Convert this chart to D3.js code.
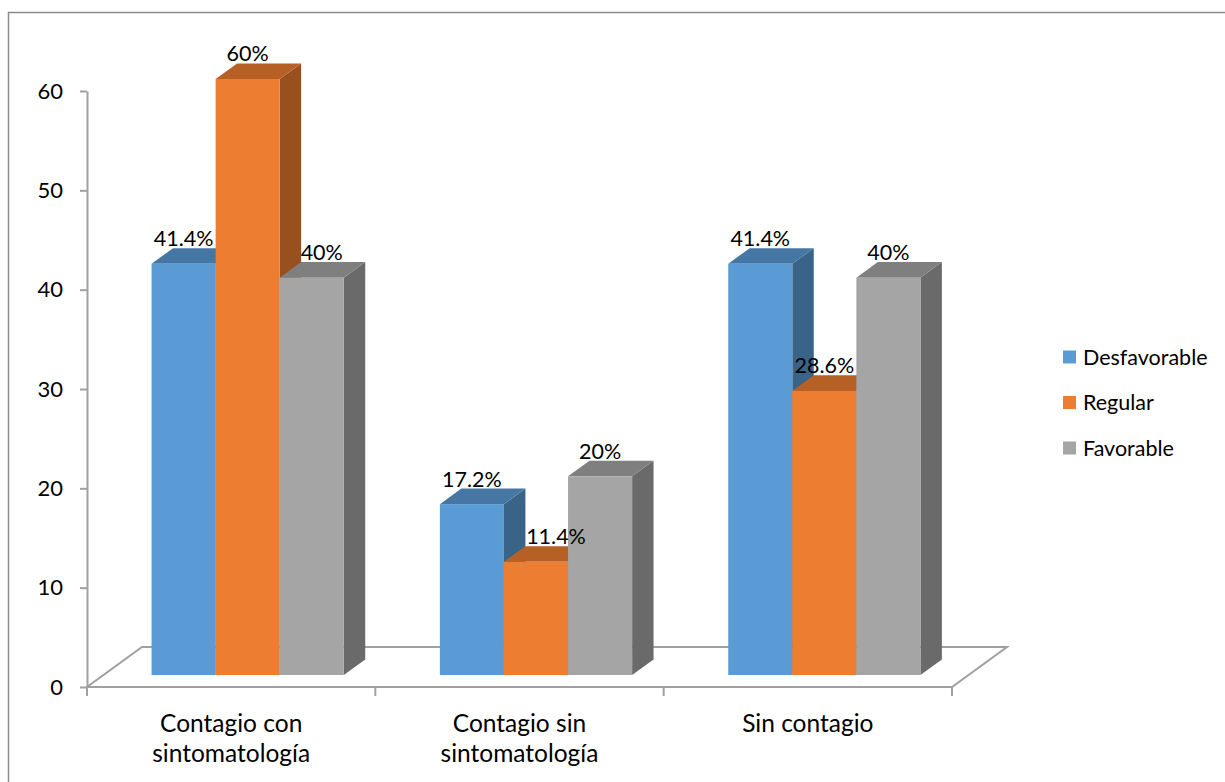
<!DOCTYPE html>
<html>
<head>
<meta charset="utf-8">
<script src="https://cdn.jsdelivr.net/npm/d3@7"></script>
<style>
  html, body { margin: 0; padding: 0; background: #fff; }
  svg { display: block; font-family: Lato, "Liberation Sans", sans-serif; }
</style>
</head>
<body>
<svg id="chart" width="1225" height="782"></svg>
<script>
// Categories (line breaks mark where the axis label wraps)
const categories = ["Contagio con\nsintomatología", "Contagio sin\nsintomatología", "Sin contagio"];
const seriesNames = ["Desfavorable", "Regular", "Favorable"];

// Percent values per category, one array per series
const desfavorable = [41.4, 17.2, 41.4];
const regular      = [60, 11.4, 28.6];
const favorable    = [40, 20, 40];

const yTicks = [0, 10, 20, 30, 40, 50, 60];

const seriesColors = ["#5B9BD5", "#ED7D31", "#A5A5A5"];

// Horizontal nudges for value labels that would otherwise sit on a neighbouring bar
const labelNudge = { "Favorable|0": 10, "Regular|1": 20 };

const seriesValues = [desfavorable, regular, favorable];
const rows = [];
categories.forEach((c, ci) => {
  seriesNames.forEach((s, si) => {
    rows.push({ category: c, ci, series: s, si, value: seriesValues[si][ci] });
  });
});

const svg = d3.select("#chart");

// Outer frame of the chart object
svg.append("rect")
  .attr("x", 8.5).attr("y", 12.5)
  .attr("width", 1240).attr("height", 800)
  .attr("fill", "none").attr("stroke", "#8c8c8c").attr("stroke-width", 1.5);

// Plot geometry: front floor edge and the oblique depth vector
const plot = { left: 87, right: 952, base: 687, top: 91 };
const depth = { dx: 55, dy: -40 };
const barFront = 0.3, barThick = 0.39;

const y = d3.scaleLinear().domain([0, 60]).range([plot.base, plot.top]);
const x = d3.scaleBand().domain(categories).range([plot.left, plot.right]).paddingInner(0).paddingOuter(0);
const xs = d3.scaleBand().domain(seriesNames).range([0, x.bandwidth()]).paddingInner(0).paddingOuter(0.75);
const color = d3.scaleOrdinal().domain(seriesNames).range(seriesColors);

// project a point at (screen x on the front plane, value, depth fraction)
const P = (px, v, d) => [px + depth.dx * d, y(v) + depth.dy * d];
const poly = pts => "M" + pts.map(p => p.join(",")).join("L") + "Z";

const axisGrey = "#a0a0a0";

// Floor
const floor = svg.append("g");
floor.append("path")
  .attr("d", poly([P(plot.left, 0, 0), P(plot.right, 0, 0), P(plot.right, 0, 1), P(plot.left, 0, 1)]))
  .attr("fill", "none").attr("stroke", axisGrey).attr("stroke-width", 2)
  .attr("stroke-linejoin", "miter");

// Value axis
const yAxis = svg.append("g")
  .attr("transform", `translate(${plot.left},0)`)
  .call(d3.axisLeft(y).tickValues(yTicks).tickSize(7).tickSizeOuter(0).tickPadding(17).tickFormat(d3.format("d")));
yAxis.select(".domain").attr("stroke", axisGrey).attr("stroke-width", 2);
yAxis.selectAll(".tick line").attr("stroke", axisGrey).attr("stroke-width", 2);
yAxis.selectAll(".tick text")
  .attr("fill", "#000").style("font-size", "22px").style("font-family", "Lato, sans-serif");

// Category tick marks at band boundaries
const bounds = categories.map(c => x(c)).concat([x(categories[categories.length - 1]) + x.bandwidth()]);
svg.append("g").selectAll("line").data(bounds).join("line")
  .attr("x1", d => d).attr("x2", d => d)
  .attr("y1", plot.base).attr("y2", plot.base + 9)
  .attr("stroke", axisGrey).attr("stroke-width", 2);

// Category labels
const catG = svg.append("g");
categories.forEach(c => {
  const t = catG.append("text")
    .attr("x", x(c) + x.bandwidth() / 2)
    .attr("y", 732)
    .attr("text-anchor", "middle")
    .style("font-size", "24.5px").attr("fill", "#000");
  c.split("\n").forEach((line, i) => {
    t.append("tspan").attr("x", x(c) + x.bandwidth() / 2).attr("dy", i === 0 ? 0 : 29.5).text(line);
  });
});

// 3D bars, drawn left to right so nearer neighbours overlap correctly
const shade = (c, k) => { const r = d3.rgb(c); return d3.rgb(r.r * k, r.g * k, r.b * k).formatHex(); };
const bars = svg.append("g");
rows.forEach(r => {
  const x0 = x(r.category) + xs(r.series);
  const x1 = x0 + xs.bandwidth();
  const d0 = barFront, d1 = barFront + barThick;
  const c = color(r.series);
  const g = bars.append("g");
  // side
  g.append("path")
    .attr("d", poly([P(x1, 0, d0), P(x1, 0, d1), P(x1, r.value, d1), P(x1, r.value, d0)]))
    .attr("fill", shade(c, 0.64));
  // top
  g.append("path")
    .attr("d", poly([P(x0, r.value, d0), P(x1, r.value, d0), P(x1, r.value, d1), P(x0, r.value, d1)]))
    .attr("fill", shade(c, 0.77));
  // front
  const a = P(x0, r.value, d0), b = P(x1, 0, d0);
  g.append("rect")
    .attr("x", a[0]).attr("y", a[1])
    .attr("width", b[0] - a[0]).attr("height", b[1] - a[1])
    .attr("fill", c);
});

// Value labels above each bar
const labels = svg.append("g");
rows.forEach(r => {
  const x0 = x(r.category) + xs(r.series);
  const front = P(x0 + xs.bandwidth() / 2, r.value, barFront);
  const back = P(x0, r.value, barFront + barThick);
  labels.append("text")
    .attr("x", front[0] + (labelNudge[r.series + "|" + r.ci] || 0))
    .attr("y", back[1] - 2)
    .attr("text-anchor", "middle")
    .style("font-size", "21.5px").attr("fill", "#000")
    .text(r.value + "%");
});

// Legend
const legend = svg.append("g").attr("transform", "translate(1063,357)");
seriesNames.forEach((s, i) => {
  const g = legend.append("g").attr("transform", `translate(0,${i * 45.5})`);
  g.append("rect").attr("x", 0).attr("y", -6.5).attr("width", 13).attr("height", 13).attr("fill", color(s));
  g.append("text").attr("x", 20).attr("y", 0).attr("dy", "0.35em")
    .style("font-size", "21.5px").attr("fill", "#000").text(s);
});
</script>
</body>
</html>
